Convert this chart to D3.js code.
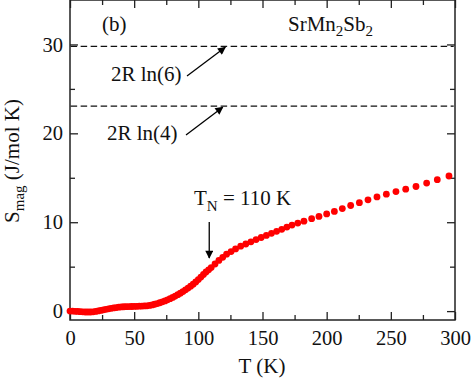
<!DOCTYPE html>
<html>
<head>
<meta charset="utf-8">
<script src="https://cdn.jsdelivr.net/npm/d3@7"></script>
<style>
  body { margin: 0; background: #fff; }
  svg { display: block; }
</style>
</head>
<body>
<div id="chart"></div>
<script>
// dense low-temperature data (K, J/mol K)
const tempDense = [0, 2, 4, 6, 8, 10, 12, 14, 16, 18, 20, 22, 24, 26, 28, 30, 32, 34, 36, 38, 40,
  42, 44, 46, 48, 50, 52, 54, 56, 58, 60, 62, 64, 66, 68, 70, 72, 74, 76, 78, 80,
  82, 84, 86, 88, 90, 92, 94, 96, 98, 100, 102, 104, 106, 108]
const sDense = [0.0, 0.0, -0.02, -0.04, -0.06, -0.08, -0.1, -0.1, -0.1, -0.08, -0.04, 0.02, 0.08, 0.14, 0.2, 0.26, 0.31, 0.36, 0.4, 0.44, 0.47,
  0.49, 0.5, 0.51, 0.52, 0.53, 0.54, 0.55, 0.57, 0.58, 0.6, 0.64, 0.7, 0.77, 0.85, 0.94, 1.04, 1.15, 1.27, 1.4, 1.54,
  1.69, 1.85, 2.02, 2.2, 2.39, 2.59, 2.8, 3.03, 3.28, 3.55, 3.83, 4.12, 4.4, 4.65]

// sparser points above T_N
const tempSparse = [110, 113, 116, 119, 122, 125.5, 129, 133, 137, 141, 145, 149, 153, 157, 161, 165, 169, 173, 177.5,
  182.3, 188.3, 194, 200, 206, 212.2, 218.7, 225.5, 232.2, 239.2, 246.5, 254, 261.6, 269.6, 277.9, 286.2, 295.3]
const sSparse = [4.9, 5.3, 5.7, 6.05, 6.4, 6.7, 7.0, 7.3, 7.55, 7.8, 8.05, 8.28, 8.52, 8.75, 8.98, 9.2, 9.45, 9.68, 9.9,
  10.12, 10.4, 10.65, 10.93, 11.22, 11.54, 11.88, 12.2, 12.52, 12.85, 13.15, 13.45, 13.72, 14.02, 14.4, 14.79, 15.2]

// reference levels
const refLabels = ['2R ln(6)', '2R ln(4)']
const refValues = [2 * 8.314 * Math.log(6), 2 * 8.314 * Math.log(4)]

const xTicks = [0, 50, 100, 150, 200, 250, 300]
const xMinor = [25, 75, 125, 175, 225, 275]
const yTicks = [0, 10, 20, 30]
const yMinor = [5, 15, 25]

const width = 471
const height = 383
const font = '"Liberation Serif", "Times New Roman", serif'

const svg = d3.select('#chart').append('svg')
  .attr('width', width)
  .attr('height', height)

const x = d3.scaleLinear().domain([0, 300]).range([70, 455])
const y = d3.scaleLinear().domain([-1, 35]).range([320, 0])

// arrow head marker
svg.append('defs').append('marker')
  .attr('id', 'head')
  .attr('viewBox', '0 0 10 10')
  .attr('refX', 9).attr('refY', 5)
  .attr('markerWidth', 11).attr('markerHeight', 8)
  .attr('markerUnits', 'userSpaceOnUse')
  .attr('orient', 'auto')
  .append('path')
  .attr('d', 'M0,0 L10,5 L0,10 Z')
  .attr('fill', '#000')

/**
 * Draws one tick set (major or minor) for the four sides.
 */
function drawTicks (values, size, labelled) {
  const bottom = svg.append('g').attr('transform', `translate(0,${y.range()[0]})`)
    .call(d3.axisBottom(x).tickValues(values).tickSize(-size).tickPadding(10)
      .tickFormat(labelled ? d3.format('d') : ''))
  const top = svg.append('g').attr('transform', `translate(0,${y.range()[1]})`)
    .call(d3.axisTop(x).tickValues(values).tickSize(-size).tickFormat(''))
  const left = svg.append('g').attr('transform', `translate(${x.range()[0]},0)`)
    .call(d3.axisLeft(y).tickValues(labelled ? yTicks : yMinor).tickSize(-size).tickPadding(7)
      .tickFormat(labelled ? d3.format('d') : ''))
  const right = svg.append('g').attr('transform', `translate(${x.range()[1]},0)`)
    .call(d3.axisRight(y).tickValues(labelled ? yTicks : yMinor).tickSize(-size).tickFormat(''))
  for (const g of [bottom, top, left, right]) {
    g.select('.domain').remove()
    g.selectAll('line').attr('stroke', '#222').attr('stroke-width', 1.3)
    g.selectAll('text')
      .attr('font-family', font)
      .attr('font-size', 20.5)
      .attr('fill', '#111')
  }
}

drawTicks(xTicks, 8, true)
drawTicks(xMinor, 5, false)

// frame
svg.append('rect')
  .attr('x', x.range()[0])
  .attr('y', y.range()[1])
  .attr('width', x.range()[1] - x.range()[0])
  .attr('height', y.range()[0] - y.range()[1])
  .attr('fill', 'none')
  .attr('stroke', '#222')
  .attr('stroke-width', 1.5)

// dashed reference lines
svg.selectAll('line.ref')
  .data(refValues)
  .join('line')
  .attr('class', 'ref')
  .attr('x1', x(0.5)).attr('x2', x(299))
  .attr('y1', d => y(d)).attr('y2', d => y(d))
  .attr('stroke', '#111')
  .attr('stroke-width', 1.3)
  .attr('stroke-dasharray', '6.5,3.5')

// data points
const points = tempDense.map((t, i) => ({ t, s: sDense[i] }))
  .concat(tempSparse.map((t, i) => ({ t, s: sSparse[i] })))

svg.append('g')
  .selectAll('circle')
  .data(points)
  .join('circle')
  .attr('cx', d => x(d.t))
  .attr('cy', d => y(d.s))
  .attr('r', 3.4)
  .attr('fill', '#ff0000')

// annotations
const txt = (px, py, size) => svg.append('text')
  .attr('x', px).attr('y', py)
  .attr('font-family', font)
  .attr('font-size', size)
  .attr('fill', '#111')

txt(102, 31, 21).text('(b)')

const formula = txt(288, 31, 21)
formula.append('tspan').text('SrMn')
formula.append('tspan').attr('dy', 5).attr('font-size', 15).text('2')
formula.append('tspan').attr('dy', -5).text('Sb')
formula.append('tspan').attr('dy', 5).attr('font-size', 15).text('2')

txt(111, 81, 21).text(refLabels[0])
txt(107, 140, 21).text(refLabels[1])

const arrow = (x1, y1, x2, y2) => svg.append('line')
  .attr('x1', x1).attr('y1', y1).attr('x2', x2).attr('y2', y2)
  .attr('stroke', '#000')
  .attr('stroke-width', 1.3)
  .attr('marker-end', 'url(#head)')

arrow(187, 76, x(121), y(refValues[0]) + 1)
arrow(186, 135, x(119), y(refValues[1]) + 1)

const tn = txt(194, 205, 21)
tn.append('tspan').text('T')
tn.append('tspan').attr('dy', 6).attr('font-size', 15).text('N')
tn.append('tspan').attr('dy', -6).text(' = 110 K')

arrow(x(108.5), 222, x(108.5), 258)

// axis titles
const xt = txt(262, 373, 21).attr('text-anchor', 'middle')
xt.text('T (K)')

const yt = svg.append('text')
  .attr('transform', 'translate(19,161) rotate(-90)')
  .attr('text-anchor', 'middle')
  .attr('font-family', font)
  .attr('font-size', 21)
  .attr('fill', '#111')
yt.append('tspan').text('S')
yt.append('tspan').attr('dy', 5).attr('font-size', 15).text('mag')
yt.append('tspan').attr('dy', -5).text(' (J/mol K)')
</script>
</body>
</html>
